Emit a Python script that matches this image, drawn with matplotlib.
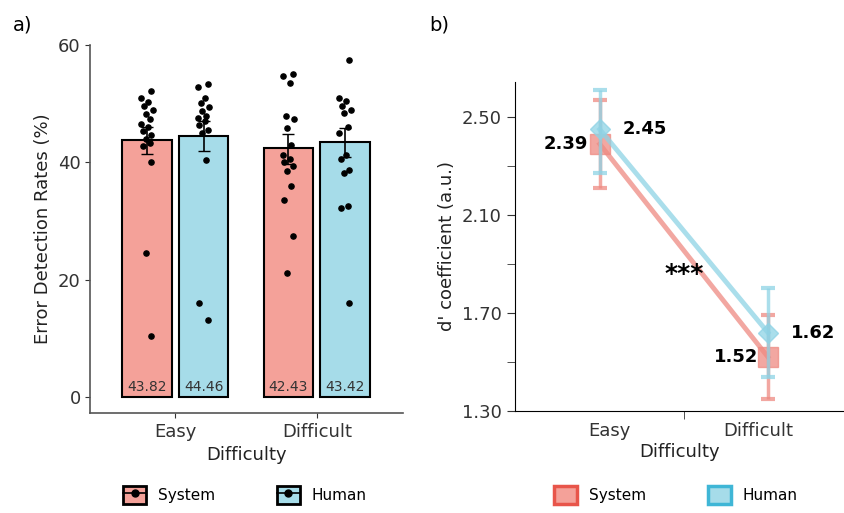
import numpy as np
import matplotlib
matplotlib.use("Agg")
import matplotlib.pyplot as plt
from matplotlib.patches import Patch
from matplotlib.lines import Line2D
from matplotlib.legend_handler import HandlerTuple
from matplotlib.ticker import FormatStrFormatter

difficulty = ["Easy", "Difficult"]
groups = ["System", "Human"]

# panel a: error detection rates (%)
rate_means = {"System": [43.82, 42.43], "Human": [44.46, 43.42]}
rate_err_lo = {"System": [41.4, 39.8], "Human": [41.9, 41.0]}
rate_err_hi = {"System": [46.0, 44.9], "Human": [47.0, 45.8]}
dots_easy_sys = [52.1, 51.0, 50.3, 49.6, 49.0, 48.2, 47.4, 46.6, 46.0, 45.4, 44.6, 44.0, 43.4, 42.8, 40.0, 24.5, 10.5]
dots_easy_hum = [53.3, 52.8, 51.0, 50.1, 49.4, 48.8, 48.0, 47.6, 47.0, 46.4, 45.6, 45.0, 40.5, 16.0, 13.2]
dots_diff_sys = [55.0, 54.8, 53.6, 48.0, 47.4, 45.8, 43.0, 41.2, 40.6, 40.0, 39.4, 38.6, 36.0, 33.6, 27.4, 21.2]
dots_diff_hum = [57.5, 51.0, 50.4, 49.6, 49.0, 48.4, 46.0, 45.0, 41.2, 40.6, 38.8, 38.2, 32.6, 32.2, 16.0]
jit_a = [0.03, -0.04, 0.01, -0.02, 0.04, -0.01, 0.02, -0.04, 0.01, -0.03, 0.03, -0.01, 0.02, -0.03, 0.03, -0.01, 0.03]

# panel b: d' coefficient
d_means = {"System": [2.39, 1.52], "Human": [2.45, 1.62]}
d_lo = {"System": [2.21, 1.35], "Human": [2.27, 1.44]}
d_hi = {"System": [2.57, 1.69], "Human": [2.61, 1.80]}

bar_col = {"System": "#F4A199", "Human": "#A6DCE9"}
line_col = {"System": "#EE8A82", "Human": "#8ED3E5"}

fig = plt.figure(figsize=(8.45, 5.13), dpi=100)
plt.rcParams['font.family'] = ['DejaVu Sans']

# ---------- panel a ----------
ax = fig.add_axes([0.107, 0.195, 0.37, 0.717])
centers = np.array([0.0, 1.0])
w = 0.35
offs = {"System": -0.20, "Human": 0.20}
dots = {("System", 0): dots_easy_sys, ("Human", 0): dots_easy_hum,
        ("System", 1): dots_diff_sys, ("Human", 1): dots_diff_hum}
for g in groups:
    xs = centers + offs[g]
    ax.bar(xs, rate_means[g], width=w, color=bar_col[g], edgecolor="black", linewidth=1.5, zorder=1)
    for i in range(2):
        m = rate_means[g][i]
        ax.errorbar(xs[i], m, yerr=[[m - rate_err_lo[g][i]], [rate_err_hi[g][i] - m]],
                    color="black", capsize=4, lw=1.2, zorder=3)
        d = dots[(g, i)]
        ax.scatter(xs[i] + np.array(jit_a[:len(d)]), d, s=14, color="black", zorder=4)
        ax.text(xs[i], 0.6, f"{m:.2f}", ha="center", va="bottom", fontsize=10, color="#333333")
ax.set_xlim(-0.60, 1.61)
ax.set_ylim(-2.7, 60)
ax.set_yticks([0, 20, 40, 60])
ax.set_xticks(centers)
ax.set_xticklabels(difficulty)
ax.tick_params(labelsize=13, colors="#333333")
ax.set_ylabel("Error Detection Rates (%)", fontsize=13, color="#222222")
ax.set_xlabel("Difficulty", fontsize=13, color="#222222")
for s in ["top", "right"]:
    ax.spines[s].set_visible(False)
for s in ["left", "bottom"]:
    ax.spines[s].set_color("#555555")
    ax.spines[s].set_linewidth(1.2)
fig.text(0.015, 0.94, "a)", fontsize=14)

hs = []
for g in groups:
    hs.append((Patch(facecolor=bar_col[g], edgecolor="black", linewidth=2),
               Line2D([], [], color="black", marker="o", markersize=5, lw=1.2)))
fig.legend(hs, groups, handler_map={tuple: HandlerTuple(ndivide=1)},
           loc="lower center", bbox_to_anchor=(0.29, -0.01), ncol=2, frameon=False,
           fontsize=11, columnspacing=4, handlelength=1.5, handleheight=1.5)

# ---------- panel b ----------
bx = fig.add_axes([0.609, 0.199, 0.391, 0.641])
xb = np.array([1.0, 2.0])
marks = {"System": "s", "Human": "D"}
msz = {"System": 14, "Human": 10}
for g in ["System", "Human"]:
    m = np.array(d_means[g])
    bx.errorbar(xb, m, yerr=[m - np.array(d_lo[g]), np.array(d_hi[g]) - m],
                color=line_col[g], lw=3.5, capsize=5, capthick=3, elinewidth=2.5,
                marker=marks[g], markersize=msz[g], alpha=0.75, zorder=2 if g == "System" else 3)
bx.text(0.8, 2.39, "2.39", ha="center", va="center", fontsize=13, fontweight="bold")
bx.text(1.27, 2.45, "2.45", ha="center", va="center", fontsize=13, fontweight="bold")
bx.text(1.81, 1.52, "1.52", ha="center", va="center", fontsize=13, fontweight="bold")
bx.text(2.27, 1.62, "1.62", ha="center", va="center", fontsize=13, fontweight="bold")
bx.text(1.5, 1.86, "***", ha="center", va="center", fontsize=18, fontweight="bold")
bx.set_xlim(0.494, 2.458)
bx.set_ylim(1.30, 2.643)
bx.set_yticks([1.30, 1.70, 2.10, 2.50])
bx.set_yticks([1.50, 1.90, 2.30], minor=True)
bx.yaxis.set_major_formatter(FormatStrFormatter("%.2f"))
bx.set_xticks([1.06, 1.94])
bx.set_xticklabels(difficulty)
bx.set_xticks([1.5], minor=True)
bx.tick_params(axis="x", length=0, labelsize=13, colors="#333333", pad=8)
bx.tick_params(axis="x", which="minor", length=6, color="#333333")
bx.tick_params(axis="y", which="both", length=6, labelsize=13, colors="#333333")
bx.set_ylabel("d' coefficient (a.u.)", fontsize=13, color="#222222")
bx.set_xlabel("Difficulty", fontsize=13, color="#222222", labelpad=2)
for s in ["top", "right"]:
    bx.spines[s].set_visible(False)
fig.text(0.508, 0.94, "b)", fontsize=14)

hs2 = [Patch(facecolor=bar_col["System"], edgecolor="#E8554A", linewidth=2.5),
       Patch(facecolor=bar_col["Human"], edgecolor="#3FB6D6", linewidth=2.5)]
fig.legend(hs2, groups, loc="lower center", bbox_to_anchor=(0.80, -0.01), ncol=2, frameon=False,
           fontsize=11, columnspacing=4, handlelength=1.5, handleheight=1.5)

fig.savefig("out.png", dpi=100)
